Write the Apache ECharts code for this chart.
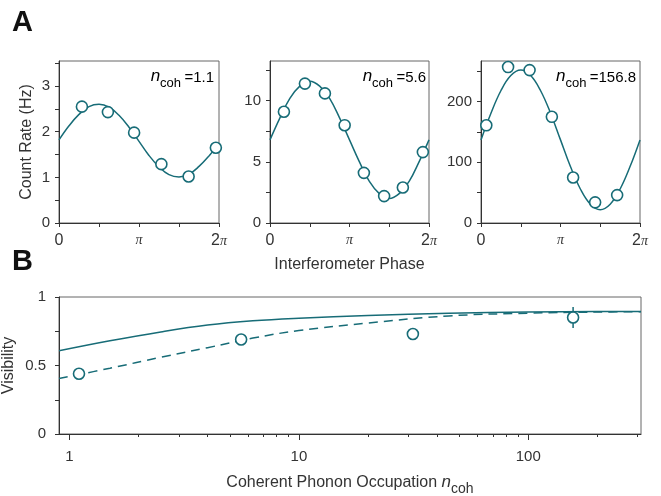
<!DOCTYPE html>
<html>
<head>
<meta charset="UTF-8" />
<script src="https://cdn.jsdelivr.net/npm/echarts@6/dist/echarts.min.js"></script>
<style>
    body { margin: 0; background: #fff; }
    #chart { width: 661px; height: 496px; }
</style>
</head>
<body>
<div id="chart"></div>
<script type="text/javascript">
    var PI = Math.PI;
    var TEAL = '#176c77';
    var FONT = 'Liberation Sans';

    // panel A : measured count rates vs interferometer phase (rad)
    var phase1 = [0.90, 1.92, 2.95, 4.02, 5.09, 6.16];
    var rate1 = [2.55, 2.43, 1.98, 1.29, 1.02, 1.65];
    var phase2 = [0.55, 1.38, 2.17, 2.95, 3.71, 4.51, 5.25, 6.04];
    var rate2 = [9.1, 11.4, 10.6, 8.0, 4.1, 2.2, 2.9, 5.8];
    var phase3 = [0.21, 1.07, 1.92, 2.80, 3.64, 4.51, 5.38];
    var rate3 = [161, 257, 252, 175, 75, 34, 46];

    var fitPhase = [0, 0.393, 0.785, 1.178, 1.571, 1.963, 2.356, 2.749, 3.142, 3.534, 3.927, 4.320, 4.712, 5.105, 5.498, 5.890, 6.283];
    var fit1 = [1.82, 2.13, 2.38, 2.55, 2.60, 2.54, 2.36, 2.10, 1.79, 1.48, 1.23, 1.06, 1.01, 1.07, 1.24, 1.47, 1.74];
    var fit2 = [6.8, 8.6, 10.2, 11.2, 11.6, 11.2, 10.2, 8.6, 6.8, 5.0, 3.4, 2.4, 2.0, 2.4, 3.4, 5.0, 6.8];
    var fit3 = [137, 181, 218, 243, 252, 243, 218, 181, 137, 93, 56, 31, 22, 31, 56, 93, 137];

    var nLabels = ['1.1', '5.6', '156.8'];

    // panel B : visibility vs coherent phonon occupation
    var occ = [1.1, 5.6, 31.4, 156.8];
    var vis = [0.44, 0.69, 0.73, 0.85];
    var errLow = [null, null, null, 0.773];
    var errHigh = [null, null, null, 0.927];

    var curveOcc = [0.9, 1.5, 2.5, 4, 6.3, 10, 20, 45, 100, 200, 310];
    var visSolid = [0.607, 0.68, 0.745, 0.795, 0.826, 0.845, 0.865, 0.882, 0.890, 0.894, 0.895];
    var visDashed = [0.405, 0.48, 0.56, 0.63, 0.70, 0.755, 0.81, 0.862, 0.882, 0.890, 0.893];

    function zip(xs, ys) {
        return xs.map(function (x, i) { return [x, ys[i]]; });
    }

    var grids = [
        { left: 59, top: 61, width: 160, height: 162 },
        { left: 270, top: 61, width: 159, height: 162 },
        { left: 481, top: 61, width: 159, height: 162 },
        { left: 59, top: 297, width: 582, height: 137 }
    ].map(function (g) {
        g.show = true;
        g.borderColor = '#666';
        g.borderWidth = 1;
        g.containLabel = false;
        g.outerBoundsMode = 'none';
        return g;
    });

    var axisLine = { show: true, lineStyle: { color: '#333', width: 1 } };
    var labelText = { color: '#333', fontFamily: FONT, fontSize: 15 };

    function phaseAxis(gi) {
        return {
            type: 'value', gridIndex: gi, min: 0, max: 2 * PI,
            axisLine: axisLine, splitLine: { show: false },
            axisTick: { length: 4, lineStyle: { color: '#333' }, customValues: [0, PI / 2, PI, 3 * PI / 2, 2 * PI] },
            axisLabel: {
                margin: 10, customValues: [0, PI, 2 * PI],
                formatter: function (v) {
                    if (v < 0.1) return '{a|0}';
                    if (v < 4) return '{p|π}';
                    return '{a|2}{p|π}';
                },
                rich: {
                    a: { fontFamily: FONT, fontSize: 16, color: '#333' },
                    p: { fontFamily: 'Liberation Serif', fontStyle: 'italic', fontSize: 14, color: '#333' }
                }
            }
        };
    }

    function rateAxis(gi, max, ticks, labels) {
        return {
            type: 'value', gridIndex: gi, min: 0, max: max,
            axisLine: axisLine, splitLine: { show: false },
            axisTick: { show: true, length: 4, lineStyle: { color: '#333' }, customValues: ticks },
            axisLabel: Object.assign({ margin: 9, customValues: labels }, labelText)
        };
    }

    var xAxes = [phaseAxis(0), phaseAxis(1), phaseAxis(2)];
    xAxes[1].name = 'Interferometer Phase';
    xAxes[1].nameLocation = 'middle';
    xAxes[1].nameGap = 34;
    xAxes[1].nameTextStyle = { fontFamily: FONT, fontSize: 16, color: '#333' };

    // panel B: log axis, major ticks with labels
    xAxes.push({
        type: 'log', logBase: 10, gridIndex: 3, min: 0.9, max: 310, position: 'bottom',
        axisLine: axisLine, splitLine: { show: false },
        axisTick: { length: 6, lineStyle: { color: '#333' }, customValues: [1, 10, 100] },
        axisLabel: Object.assign({ margin: 15, customValues: [1, 10, 100] }, labelText),
        name: '{t|Coherent Phonon Occupation }{n|n}{s|coh}',
        nameLocation: 'middle', nameGap: 40,
        nameTextStyle: {
            rich: {
                t: { fontFamily: FONT, fontSize: 16, color: '#333', verticalAlign: 'bottom', padding: [0, 0, 5, 0] },
                n: { fontFamily: FONT, fontSize: 17, fontStyle: 'italic', color: '#333', verticalAlign: 'bottom', padding: [0, 0, 5, 0] },
                s: { fontFamily: FONT, fontSize: 14, color: '#333', verticalAlign: 'bottom' }
            }
        }
    });
    // panel B: minor ticks
    xAxes.push({
        type: 'log', logBase: 10, gridIndex: 3, min: 0.9, max: 310, position: 'bottom',
        axisLine: { show: false }, splitLine: { show: false },
        axisTick: { length: 3, lineStyle: { color: '#333' }, customValues: [2, 3, 4, 5, 6, 7, 8, 9, 20, 30, 40, 50, 60, 70, 80, 90, 200, 300] },
        axisLabel: { show: false }
    });

    var yAxes = [
        rateAxis(0, 3.55, [0, 0.5, 1, 1.5, 2, 2.5, 3, 3.5], [0, 1, 2, 3]),
        rateAxis(1, 13.25, [0, 2.5, 5, 7.5, 10, 12.5], [0, 5, 10]),
        rateAxis(2, 267, [0, 50, 100, 150, 200, 250], [0, 100, 200]),
        rateAxis(3, 1, [0, 0.25, 0.5, 0.75, 1], [0, 0.5, 1])
    ];
    yAxes[0].name = 'Count Rate (Hz)';
    yAxes[0].nameLocation = 'middle';
    yAxes[0].nameGap = 24;
    yAxes[0].nameMoveOverlap = false;
    yAxes[0].nameTextStyle = { fontFamily: FONT, fontSize: 16, color: '#333' };
    yAxes[3].axisLabel.margin = 13;
    yAxes[3].name = 'Visibility';
    yAxes[3].nameLocation = 'middle';
    yAxes[3].nameGap = 42;
    yAxes[3].nameMoveOverlap = false;
    yAxes[3].nameTextStyle = { fontFamily: FONT, fontSize: 16, color: '#333' };

    var pointStyle = { color: '#fff', borderColor: TEAL, borderWidth: 1.6, opacity: 1 };

    var series = [];
    [[phase1, rate1, fit1], [phase2, rate2, fit2], [phase3, rate3, fit3]].forEach(function (p, i) {
        series.push({
            type: 'line', xAxisIndex: i, yAxisIndex: i, data: zip(fitPhase, p[2]),
            smooth: 0.4, symbol: 'none', lineStyle: { color: TEAL, width: 1.5 }, silent: true
        });
        series.push({
            type: 'scatter', xAxisIndex: i, yAxisIndex: i, data: zip(p[0], p[1]),
            symbol: 'circle', symbolSize: 11, itemStyle: pointStyle, z: 3
        });
    });

    series.push({
        type: 'line', xAxisIndex: 3, yAxisIndex: 3, data: zip(curveOcc, visSolid),
        smooth: 0.4, symbol: 'none', lineStyle: { color: TEAL, width: 1.5 }
    });
    series.push({
        type: 'line', xAxisIndex: 3, yAxisIndex: 3, data: zip(curveOcc, visDashed),
        smooth: 0.4, symbol: 'none', lineStyle: { color: TEAL, width: 1.5, type: [9, 6] }
    });
    // error bar on the last point
    occ.forEach(function (x, i) {
        if (errLow[i] == null) return;
        series.push({
            type: 'line', xAxisIndex: 3, yAxisIndex: 3, data: [[x, errLow[i]], [x, errHigh[i]]],
            symbol: 'none', lineStyle: { color: TEAL, width: 1.5 }
        });
    });
    series.push({
        type: 'scatter', xAxisIndex: 3, yAxisIndex: 3, data: zip(occ, vis),
        symbol: 'circle', symbolSize: 11, itemStyle: pointStyle, z: 3
    });

    var nRich = {
        n: { fontFamily: FONT, fontSize: 17, fontStyle: 'italic', color: '#111', verticalAlign: 'bottom', padding: [0, 0, 5, 0] },
        s: { fontFamily: FONT, fontSize: 13, color: '#111', verticalAlign: 'bottom' },
        v: { fontFamily: FONT, fontSize: 15, color: '#111', verticalAlign: 'bottom', padding: [0, 0, 5, 0] }
    };
    var graphic = [
        { type: 'text', left: 12, top: 8, style: { text: 'A', fontFamily: FONT, fontWeight: 'bold', fontSize: 29, fill: '#111' } },
        { type: 'text', left: 12, top: 247, style: { text: 'B', fontFamily: FONT, fontWeight: 'bold', fontSize: 29, fill: '#111' } }
    ];
    [214, 426, 636].forEach(function (x, i) {
        graphic.push({
            type: 'text', x: x, y: 90,
            style: { text: '{n|n}{s|coh} {v|=' + nLabels[i] + '}', rich: nRich, align: 'right', verticalAlign: 'bottom' }
        });
    });

    var myChart = echarts.init(document.getElementById('chart'));
    var option = {
        animation: false,
        grid: grids,
        xAxis: xAxes,
        yAxis: yAxes,
        series: series,
        graphic: graphic
    };
    myChart.setOption(option);
</script>
</body>
</html>
